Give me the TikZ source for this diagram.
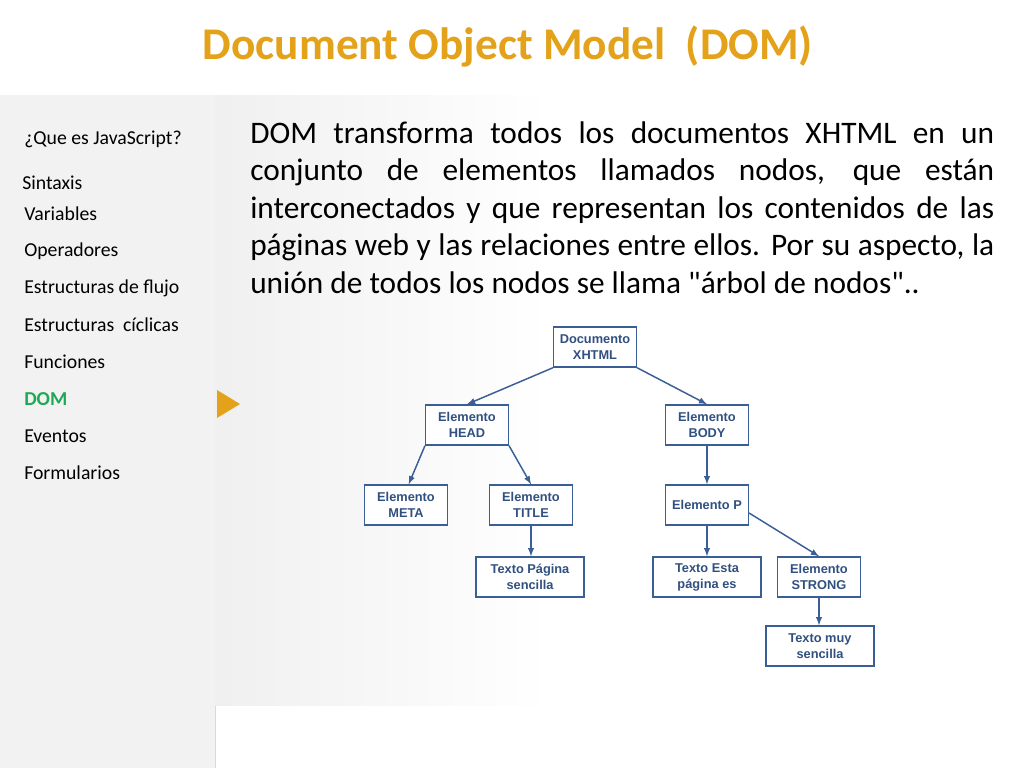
\documentclass[tikz,border=0pt]{standalone}
\usepackage{fontspec}
\setmainfont{Carlito}
\newfontfamily\boxfont{Liberation Sans}
\usetikzlibrary{positioning}
\definecolor{titleorange}{HTML}{E3A21A}
\definecolor{treeblue}{HTML}{3A5E96}
\definecolor{menugreen}{HTML}{1FA855}
\definecolor{panelgrey}{HTML}{F2F2F2}
\begin{document}
\begin{tikzpicture}[x=.75pt,y=-.75pt,
	tbox/.style={draw=treeblue,line width=1.1pt,fill=white,minimum width=62pt,minimum height=30pt,
		align=center,font=\boxfont\fontsize{9.6}{12}\selectfont\bfseries,text=treeblue!85!black,inner sep=1pt},
	tarr/.style={draw=treeblue,line width=1.1pt,-latex},
	menu/.style={anchor=west,inner sep=0pt,font=\fontsize{14.8}{17}\selectfont}]
	\useasboundingbox(0,0)rectangle(1024,768);
	\fill[white](0,0)rectangle(1024,768);
	% panels
	\fill[panelgrey](0,95)rectangle(215,768);
	\draw[black!15](215,95)--(215,768);
	\shade[left color=black!6,right color=white](215,95)rectangle(550,705);
	\fill[white](550,95)rectangle(1024,705);
	\node[font=\fontsize{34}{40}\selectfont\bfseries,text=titleorange]at(508,47){Document Object Model\ \ (DOM)};
	% menu
	\node[menu](m1)at(24,139){¿Que es JavaScript?};
	\node[menu](m2)at(22,183){Sintaxis};
	\node[menu](m3)at(24,214){Variables};
	\node[menu](m4)at(24,251){Operadores};
	\node[menu](m5)at(24,288){Estructuras de flujo};
	\node[menu](m6)at(24,325){Estructuras\ \ cíclicas};
	\node[menu](m7)at(24,362){Funciones};
	\node[menu,text=menugreen,font=\fontsize{14.8}{17}\selectfont\bfseries](m8)at(24,399){DOM};
	\node[menu](m9)at(24,436){Eventos};
	\node[menu](m10)at(24,473){Formularios};
	\fill[titleorange](217,390)--(240,404)--(217,418)--cycle;
	% paragraph
	\node[anchor=north west,text width=558pt,align=justify,inner sep=0pt,
		font=\fontsize{23.5}{28.2}\selectfont](txt)at(250,121){DOM transforma todos los documentos XHTML\ en un\linebreak
		conjunto de elementos llamados nodos, que\ están\linebreak
		interconectados y que representan los contenidos\ de las\linebreak
		páginas web y las relaciones entre ellos. Por su aspecto,\ la\linebreak
		unión de todos los nodos se llama \textquotedbl árbol de nodos\textquotedbl..};
	% tree
	\node[tbox](doc)at(595,347){Documento\\XHTML};
	\node[tbox](head)at(467,425){Elemento\\HEAD};
	\node[tbox](body)at(707,425){Elemento\\BODY};
	\node[tbox](meta)at(406,505){Elemento\\META};
	\node[tbox](title)at(531,505){Elemento\\TITLE};
	\node[tbox](elp)at(707,505){Elemento P};
	\node[tbox,minimum width=81pt](tpag)at(530,577){Texto Página\\sencilla};
	\node[tbox,minimum width=81pt](testa)at(707,577){Texto Esta\\página es};
	\node[tbox](strong)at(819,577){Elemento\\STRONG};
	\node[tbox,minimum width=81pt](tmuy)at(820,646){Texto muy\\sencilla};
	\draw[tarr](doc.south west)--(head.north);
	\draw[tarr](doc.south east)--(body.north);
	\draw[tarr](head.south west)--([xshift=2pt]meta.north);
	\draw[tarr](head.south east)--(title.north);
	\draw[tarr](body)--(elp);
	\draw[tarr](title.south)--(tpag.north-|title.south);
	\draw[tarr](elp)--(testa);
	\draw[tarr]([yshift=-6pt]elp.east)--(strong.north);
	\draw[tarr](strong.south)--(tmuy.north-|strong.south);
\end{tikzpicture}
\end{document}
